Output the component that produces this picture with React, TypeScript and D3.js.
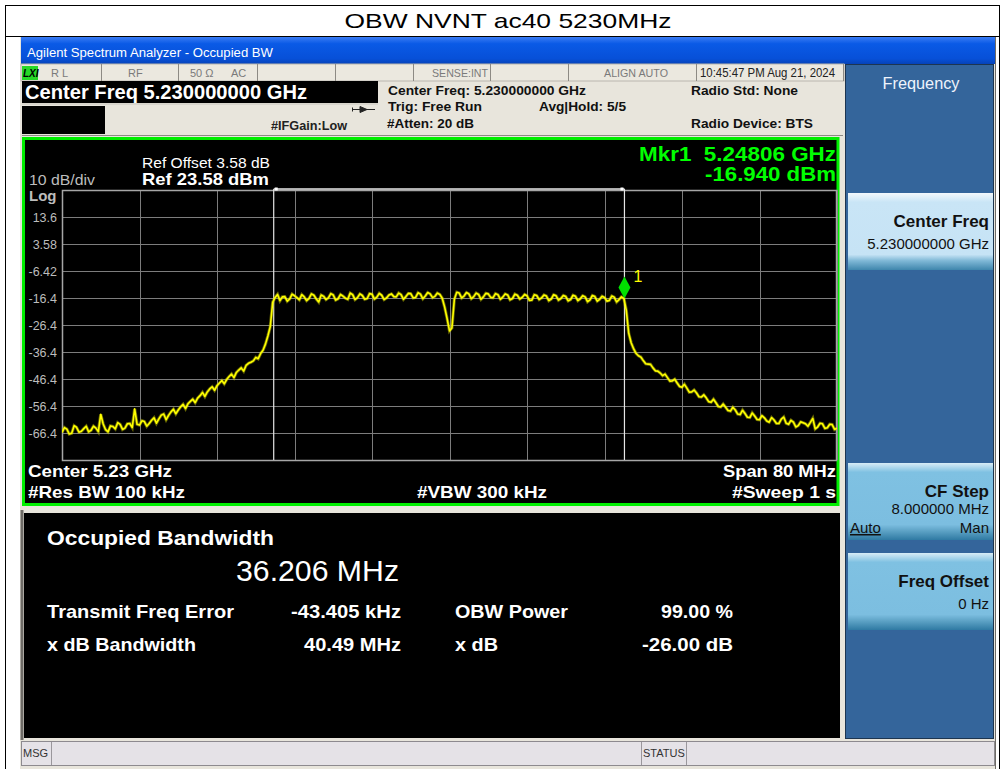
import * as d3 from 'd3';

// trace samples, 0.5 MHz apart, starting 40 MHz below centre (dBm)
const TRACE_START_MHZ = -40;
const TRACE_STEP_MHZ = 0.5;
const TRACE_DBM = [
  -66.2, -65.0, -66.5, -64.3, -65.8, -63.9, -65.4, -64.6, -59.5, -65.2,
  -63.8, -64.9, -63.2, -64.6, -62.9, -57.5, -63.5, -62.2, -62.9, -60.8,
  -61.2, -59.4, -59.9, -57.6, -57.9, -55.8, -55.6, -53.9, -53.5, -51.4,
  -51.2, -49.3, -48.9, -47.0, -46.6, -44.6, -44.0, -42.3, -41.4, -40.2,
  -38.4, -37.0, -33.5, -27.0,
  -16.2, -17.4, -15.9, -16.8, -15.6, -17.1, -16.0, -16.6, -15.4, -17.9,
  -15.8, -16.4, -15.3, -16.7, -15.7, -16.9, -15.2, -16.3, -15.5, -16.6,
  -15.0, -16.1, -15.4, -16.4, -14.9, -16.0, -15.2, -15.9, -14.8, -16.2,
  -15.0, -15.7, -14.9, -15.8, -15.1,
  -19.8, -28.6, -16.9,
  -14.6, -15.7, -14.9, -15.9, -15.1, -16.0, -14.9, -16.3, -15.2, -16.1,
  -15.3, -16.6, -15.4, -16.2, -15.6, -17.2, -15.5, -16.4, -15.7, -16.8,
  -15.6, -16.6, -15.9, -17.0, -15.8, -16.7, -16.0, -17.1, -15.9, -16.9,
  -16.2, -17.3, -16.1, -17.0, -16.6,
  -29.5, -35.2, -37.8, -39.6, -40.9, -42.3, -43.5, -45.2, -45.9, -47.1,
  -47.9, -49.5, -49.8, -51.2, -51.6, -53.1, -53.4, -55.0, -55.2, -56.8,
  -56.9, -58.3, -57.9, -59.6, -59.2, -60.7, -60.1, -61.5, -60.8, -62.4,
  -61.6, -62.9, -60.5, -63.2, -62.4, -63.7, -62.6, -63.9, -61.0, -64.2,
  -63.0, -64.5, -63.3, -64.6,
];
// samples half-way between the ones above (-39.75 MHz ... +39.75 MHz)
const TRACE_MID_DBM = [
  -64.4, -66.8, -63.7, -66.1, -64.8, -66.0, -63.9, -65.9, -63.1, -66.0,
  -64.0, -62.6, -65.1, -63.0, -64.4, -63.2, -61.9, -63.9, -61.7, -62.8,
  -59.8, -61.5, -58.6, -59.3, -56.7, -57.4, -54.7, -55.2, -52.6, -52.9,
  -50.1, -50.6, -47.9, -48.2, -45.5, -45.9, -43.1, -43.5, -40.6, -39.7,
  -38.9, -35.8, -30.5, -18.0,
  -15.1, -16.0, -17.6, -15.0, -16.3, -15.2, -17.4, -14.9, -16.8, -15.3,
  -17.0, -14.8, -17.2, -15.1, -16.5, -14.6, -17.0, -14.9, -16.9, -14.8,
  -16.8, -14.7, -17.0, -15.3, -15.9, -14.6, -16.9, -14.7, -16.4, -14.5,
  -16.7, -14.4, -16.3, -14.6, -16.5,
  -24.0, -27.5,
  -14.3, -16.4, -14.4, -16.7, -14.6, -16.9, -14.7, -16.2, -14.8, -16.9,
  -14.9, -17.1, -15.0, -16.8, -15.1, -17.3, -15.2, -17.0, -15.3, -17.4,
  -15.2, -17.2, -15.5, -17.5, -15.4, -17.4, -15.6, -17.8, -15.5, -17.6,
  -15.8, -17.6, -15.7, -17.9, -16.0,
  -21.0,
  -33.0, -36.9, -38.3, -40.8, -41.0, -43.4, -44.2, -44.6, -47.2, -46.5,
  -49.2, -48.4, -51.3, -50.5, -53.0, -52.3, -54.8, -53.9, -56.6, -55.7,
  -58.1, -56.9, -59.4, -58.0, -60.6, -59.0, -61.4, -60.0, -62.0, -60.7,
  -62.9, -61.3, -62.8, -61.7, -64.2, -62.3, -63.0, -62.5, -64.9, -62.8,
  -64.7, -63.2, -65.1,
];

const REF_LEVEL = 23.58;
const DB_PER_DIV = 10;
const Y_DIVS = 10;
const SPAN_MHZ = 80;
const X_DIVS = 10;
const Y_TICK_LABELS = ['13.6', '3.58', '-6.42', '-16.4', '-26.4', '-36.4', '-46.4', '-56.4', '-66.4'];

const MARKER_OFFSET_MHZ = 18.06;
const MARKER_DBM = -16.94;
const OBW_MHZ = 36.206;

const SANS = "'Liberation Sans', Arial, sans-serif";
const NARROW = "'Liberation Sans Narrow', 'Liberation Sans', Arial, sans-serif";

const PLOT = { left: 62, right: 837, top: 190, bottom: 460 };

const x = d3
  .scaleLinear()
  .domain([-SPAN_MHZ / 2, SPAN_MHZ / 2])
  .range([PLOT.left, PLOT.right]);
const y = d3
  .scaleLinear()
  .domain([REF_LEVEL - DB_PER_DIV * Y_DIVS, REF_LEVEL])
  .range([PLOT.bottom, PLOT.top]);

// merge both sample sets into one sweep ordered by frequency
const sweep: [number, number][] = [];
TRACE_DBM.forEach((v, i) => {
  sweep.push([TRACE_START_MHZ + i * TRACE_STEP_MHZ, v]);
  if (i < TRACE_MID_DBM.length) {
    sweep.push([TRACE_START_MHZ + (i + 0.5) * TRACE_STEP_MHZ, TRACE_MID_DBM[i]]);
  }
});

const tracePath =
  d3
    .line<[number, number]>()
    .x((d) => x(d[0]))
    .y((d) => y(d[1]))(sweep) ?? '';

const xGrid = d3.range(X_DIVS + 1).map((i) => -SPAN_MHZ / 2 + (i * SPAN_MHZ) / X_DIVS);
const yGrid = d3.range(Y_DIVS + 1).map((i) => REF_LEVEL - i * DB_PER_DIV);

const PRE = { whiteSpace: 'pre' as const };

function Softkey({
  top,
  light,
  title,
  value,
  autoMan,
}: {
  top: number;
  light?: boolean;
  title: string;
  value: string;
  autoMan?: boolean;
}) {
  return (
    <g>
      <rect x={848} y={top} width={145} height={77} fill={light ? 'url(#keyLight)' : 'url(#keyMid)'} />
      <text x={989} y={top + 34} textAnchor="end" fontFamily={SANS} fontWeight="bold" fontSize={17} fill="#111">
        {title}
      </text>
      <text x={989} y={top + (autoMan ? 51 : 56)} textAnchor="end" fontFamily={SANS} fontSize={15} fill="#111">
        {value}
      </text>
      {autoMan && (
        <>
          <text x={850} y={top + 70} fontFamily={SANS} fontSize={15} fill="#111" textDecoration="underline">
            Auto
          </text>
          <text x={989} y={top + 70} textAnchor="end" fontFamily={SANS} fontSize={15} fill="#111">
            Man
          </text>
        </>
      )}
    </g>
  );
}

export default function App() {
  const mx = x(MARKER_OFFSET_MHZ);
  const my = y(MARKER_DBM);
  // OBW window: right edge sits on marker 1, left edge one OBW below it
  const obwLeft = x(MARKER_OFFSET_MHZ - OBW_MHZ);
  const obwRight = x(MARKER_OFFSET_MHZ);

  const statusSeps = [101, 178, 257, 335, 413, 490, 568, 696, 843];

  return (
    <svg
      width={1003}
      height={769}
      style={{ position: 'absolute', left: 0, top: 0 }}
      fontFamily={SANS}
    >
      <defs>
        <linearGradient id="titleBar" x1="0" y1="0" x2="0" y2="1">
          <stop offset="0" stopColor="#3b7cf4" />
          <stop offset="0.25" stopColor="#0a5ae6" />
          <stop offset="0.8" stopColor="#0750d8" />
          <stop offset="1" stopColor="#0643b8" />
        </linearGradient>
        <linearGradient id="keyLight" x1="0" y1="0" x2="0" y2="1">
          <stop offset="0" stopColor="#f2f8fc" />
          <stop offset="0.12" stopColor="#c9e5f6" />
          <stop offset="0.8" stopColor="#c6e3f5" />
          <stop offset="0.88" stopColor="#7fb8d6" />
          <stop offset="1" stopColor="#3f86ad" />
        </linearGradient>
        <linearGradient id="keyMid" x1="0" y1="0" x2="0" y2="1">
          <stop offset="0" stopColor="#d8ecf6" />
          <stop offset="0.12" stopColor="#7fc1e2" />
          <stop offset="0.8" stopColor="#7cbee0" />
          <stop offset="0.88" stopColor="#5ea3c6" />
          <stop offset="1" stopColor="#2f7aa3" />
        </linearGradient>
        <clipPath id="plotClip">
          <rect x={PLOT.left} y={PLOT.top - 2} width={PLOT.right - PLOT.left} height={PLOT.bottom - PLOT.top + 2} />
        </clipPath>
      </defs>

      <rect width={1003} height={769} fill="#fff" />
      <text x={508} y={28} textAnchor="middle" fontSize={21} textLength={327} lengthAdjust="spacingAndGlyphs">
        OBW NVNT ac40 5230MHz
      </text>

      {/* analyzer screenshot */}
      <rect x={20} y={37} width={976} height={732} fill="#e8e5dc" />
      <rect x={21} y={37} width={974} height={27} fill="url(#titleBar)" />
      <text x={27} y={57} fontSize={12.5} fill="#fff" textLength={246} lengthAdjust="spacingAndGlyphs">
        Agilent Spectrum Analyzer - Occupied BW
      </text>

      {/* status row */}
      <rect x={21} y={64} width={823} height={17} fill="#ebe8df" stroke="#b9b6ae" />
      {statusSeps.map((s) => (
        <line key={s} x1={s + 0.5} x2={s + 0.5} y1={64} y2={81} stroke="#8d8a84" />
      ))}
      <rect x={22} y={66} width={16} height={14} fill="#27d827" />
      <text x={23} y={77} fontSize={10} fontWeight="bold" fontStyle="italic" fill="#000">
        LXI
      </text>
      <g fontFamily={NARROW} fontSize={11} fill="#7a7a7a">
        <text x={51} y={77}>R L</text>
        <text x={128} y={77}>RF</text>
        <text x={190} y={77}>50 Ω</text>
        <text x={231} y={77}>AC</text>
        <text x={432} y={77} textLength={56} lengthAdjust="spacingAndGlyphs">SENSE:INT</text>
        <text x={604} y={77} textLength={64} lengthAdjust="spacingAndGlyphs">ALIGN AUTO</text>
        <text x={700} y={77} fill="#222" fontSize={12} textLength={135} lengthAdjust="spacingAndGlyphs">
          10:45:47 PM Aug 21, 2024
        </text>
      </g>

      {/* centre frequency readout */}
      <rect x={22} y={81} width={356} height={22} fill="#000" />
      <line x1={22} x2={378} y1={104} y2={104} stroke="#c8c5bd" />
      <text x={25} y={99} fill="#fff" fontWeight="bold" fontSize={20} textLength={282} lengthAdjust="spacingAndGlyphs">
        Center Freq 5.230000000 GHz
      </text>
      <rect x={22} y={106} width={83} height={28} fill="#000" />
      <text x={271} y={129.5} fontWeight="bold" fontSize={12.5} fill="#222" textLength={76} lengthAdjust="spacingAndGlyphs">
        #IFGain:Low
      </text>
      <g stroke="#222" fill="#222">
        <line x1={352} x2={375} y1={109.5} y2={109.5} />
        <path d="M360,106.5 L367,109.5 L360,112.5 Z" />
        <line x1={352.5} x2={352.5} y1={107.5} y2={111.5} />
      </g>

      {/* measurement settings */}
      <g fontWeight="bold" fontSize={13} fill="#111">
        <text x={388} y={94.5} textLength={198} lengthAdjust="spacingAndGlyphs">Center Freq: 5.230000000 GHz</text>
        <text x={388} y={111} textLength={94} lengthAdjust="spacingAndGlyphs">Trig: Free Run</text>
        <text x={539} y={111} textLength={87} lengthAdjust="spacingAndGlyphs">Avg|Hold: 5/5</text>
        <text x={387} y={127.5} textLength={87} lengthAdjust="spacingAndGlyphs">#Atten: 20 dB</text>
        <text x={691} y={94.5} textLength={107} lengthAdjust="spacingAndGlyphs">Radio Std: None</text>
        <text x={691} y={127.5} textLength={122} lengthAdjust="spacingAndGlyphs">Radio Device: BTS</text>
      </g>
      <line x1={22} x2={843} y1={135.5} y2={135.5} stroke="#8d8a84" />

      {/* trace window */}
      <rect x={23.5} y={138.5} width={814.5} height={366} fill="#000" stroke="#00ee00" strokeWidth={3} />

      <text x={142} y={168} fill="#fff" fontSize={15} textLength={128} lengthAdjust="spacingAndGlyphs">
        Ref Offset 3.58 dB
      </text>
      <text x={142} y={185} fill="#fff" fontWeight="bold" fontSize={17} textLength={127} lengthAdjust="spacingAndGlyphs">
        Ref 23.58 dBm
      </text>
      <text x={29} y={185} fill="#bdbdbd" fontSize={14} textLength={66} lengthAdjust="spacingAndGlyphs">
        10 dB/div
      </text>
      <text x={29} y={201} fill="#bdbdbd" fontWeight="bold" fontSize={15}>
        Log
      </text>
      <text x={836} y={161} textAnchor="end" fill="#00ff00" fontWeight="bold" fontSize={20} style={PRE} textLength={197} lengthAdjust="spacingAndGlyphs">
        Mkr1  5.24806 GHz
      </text>
      <text x={836} y={181} textAnchor="end" fill="#00ff00" fontWeight="bold" fontSize={20} textLength={131} lengthAdjust="spacingAndGlyphs">
        -16.940 dBm
      </text>

      {/* grid */}
      <g stroke="#7c7c7c" strokeWidth={1}>
        {xGrid.map((f) => (
          <line key={`v${f}`} x1={Math.round(x(f)) + 0.5} x2={Math.round(x(f)) + 0.5} y1={PLOT.top} y2={PLOT.bottom} />
        ))}
        {yGrid.map((v) => (
          <line key={`h${v}`} x1={PLOT.left} x2={PLOT.right} y1={Math.round(y(v)) + 0.5} y2={Math.round(y(v)) + 0.5} />
        ))}
      </g>
      <rect
        x={PLOT.left + 0.5}
        y={PLOT.top + 0.5}
        width={PLOT.right - PLOT.left - 1}
        height={PLOT.bottom - PLOT.top}
        fill="none"
        stroke="#a6a6a6"
        strokeWidth={1.5}
      />
      <g fill="#bdbdbd" fontSize={12.5} textAnchor="end">
        {Y_TICK_LABELS.map((t, i) => (
          <text key={t} x={57} y={y(REF_LEVEL - (i + 1) * DB_PER_DIV)} dy="0.36em">
            {t}
          </text>
        ))}
      </g>

      {/* occupied bandwidth limits */}
      <g stroke="#e6e6e6" strokeWidth={1.2}>
        <line x1={obwLeft} x2={obwLeft} y1={PLOT.top - 1} y2={PLOT.bottom} />
        <line x1={obwRight} x2={obwRight} y1={PLOT.top - 1} y2={PLOT.bottom} />
        <line x1={obwLeft} x2={obwRight} y1={PLOT.top - 1} y2={PLOT.top - 1} strokeWidth={1.5} />
      </g>
      <rect x={obwLeft + 1} y={PLOT.top - 2.5} width={3} height={3} fill="#fff" />
      <rect x={obwRight - 4} y={PLOT.top - 2.5} width={3} height={3} fill="#fff" />

      <path d={tracePath} fill="none" stroke="#c8c800" strokeWidth={3.2} strokeOpacity={0.5} clipPath="url(#plotClip)" />
      <path d={tracePath} fill="none" stroke="#ffff00" strokeWidth={1.6} strokeLinejoin="round" clipPath="url(#plotClip)" />

      {/* marker 1 */}
      <path d={`M${mx},${my - 1} L${mx + 6},${my - 12} L${mx},${my - 23} L${mx - 6},${my - 12} Z`} fill="#00e000" />
      <text x={mx + 9} y={my - 17} fill="#ffff00" fontSize={16}>
        1
      </text>

      <g fill="#fff" fontFamily={NARROW} fontWeight="bold" fontSize={17} style={PRE}>
        <text x={28} y={477} textLength={144} lengthAdjust="spacingAndGlyphs">Center  5.23 GHz</text>
        <text x={28} y={498} textLength={157} lengthAdjust="spacingAndGlyphs">#Res BW  100 kHz</text>
        <text x={417} y={498} textLength={130} lengthAdjust="spacingAndGlyphs">#VBW  300 kHz</text>
        <text x={836} y={477} textAnchor="end" textLength={113} lengthAdjust="spacingAndGlyphs">Span 80 MHz</text>
        <text x={836} y={498} textAnchor="end" textLength={104} lengthAdjust="spacingAndGlyphs">#Sweep  1 s</text>
      </g>

      {/* results panel */}
      <line x1={22} x2={22} y1={510} y2={740} stroke="#6e6b66" strokeWidth={3} />
      <rect x={24} y={513} width={816} height={225} fill="#000" />
      <g fill="#fff" fontWeight="bold">
        <text x={47} y={545} fontSize={21} textLength={227} lengthAdjust="spacingAndGlyphs">Occupied Bandwidth</text>
        <text x={399} y={581} fontSize={29} fontWeight="normal" textAnchor="end" textLength={163} lengthAdjust="spacingAndGlyphs">
          36.206 MHz
        </text>
        <g fontSize={19}>
          <text x={47} y={618} textLength={187} lengthAdjust="spacingAndGlyphs">Transmit Freq Error</text>
          <text x={401} y={618} textAnchor="end" textLength={110} lengthAdjust="spacingAndGlyphs">-43.405 kHz</text>
          <text x={47} y={651} textLength={149} lengthAdjust="spacingAndGlyphs">x dB Bandwidth</text>
          <text x={401} y={651} textAnchor="end" textLength={97} lengthAdjust="spacingAndGlyphs">40.49 MHz</text>
          <text x={455} y={618} textLength={113} lengthAdjust="spacingAndGlyphs">OBW Power</text>
          <text x={733} y={618} textAnchor="end" textLength={72} lengthAdjust="spacingAndGlyphs">99.00 %</text>
          <text x={455} y={651} textLength={43} lengthAdjust="spacingAndGlyphs">x dB</text>
          <text x={733} y={651} textAnchor="end" textLength={91} lengthAdjust="spacingAndGlyphs">-26.00 dB</text>
        </g>
      </g>

      {/* softkey panel */}
      <rect x={845.5} y={64.5} width={148} height={674} fill="#34659b" stroke="#1d3550" />
      <text x={921} y={89} textAnchor="middle" fill="#eef3fb" fontSize={16} textLength={77} lengthAdjust="spacingAndGlyphs">
        Frequency
      </text>
      <Softkey top={193} light title="Center Freq" value="5.230000000 GHz" />
      <Softkey top={463} title="CF Step" value="8.000000 MHz" autoMan />
      <Softkey top={553} title="Freq Offset" value="0 Hz" />

      {/* message bar */}
      <rect x={21.5} y={741.5} width={973} height={24} fill="#e5e2e7" stroke="#8d8a8f" />
      <line x1={51.5} x2={51.5} y1={742} y2={765} stroke="#9a979c" />
      <line x1={641.5} x2={641.5} y1={742} y2={765} stroke="#9a979c" />
      <line x1={686.5} x2={686.5} y1={742} y2={765} stroke="#9a979c" />
      <g fontFamily={NARROW} fontSize={11} fill="#333">
        <text x={23} y={757}>MSG</text>
        <text x={643} y={757}>STATUS</text>
      </g>
      <line x1={995.5} x2={995.5} y1={37} y2={769} stroke="#6e6b66" />

      {/* outer frame */}
      <g stroke="#000" strokeWidth={1} fill="none">
        <line x1={5.5} x2={5.5} y1={5} y2={769} />
        <line x1={999.5} x2={999.5} y1={5} y2={769} />
        <line x1={5} x2={1000} y1={5.5} y2={5.5} />
        <line x1={5} x2={1000} y1={36.5} y2={36.5} />
      </g>
    </svg>
  );
}
